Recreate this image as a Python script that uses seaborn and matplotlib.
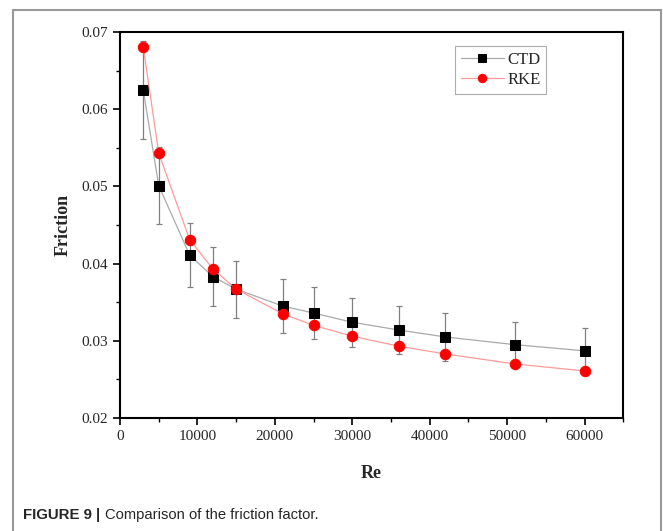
import numpy as np
import pandas as pd
import matplotlib.pyplot as plt
import seaborn as sns
from matplotlib.lines import Line2D

# Reynolds numbers and friction factors
re_vals = [3000, 5000, 9000, 12000, 15000, 21000, 25000, 30000, 36000, 42000, 51000, 60000]
ctd = [0.0625, 0.0501, 0.0411, 0.0383, 0.0367, 0.0345, 0.0336, 0.0324, 0.0314, 0.0305, 0.0295, 0.0287]
ctd_err = [0.0063, 0.0050, 0.0041, 0.0038, 0.0037, 0.0035, 0.0034, 0.0032, 0.0031, 0.0031, 0.0029, 0.0029]
rke = [0.0681, 0.0543, 0.0431, 0.0393, 0.0367, 0.0335, 0.0320, 0.0306, 0.0293, 0.0283, 0.0270, 0.0261]

sns.set_style("ticks")
plt.rcParams['font.family'] = ['Liberation Serif', 'DejaVu Serif']

df = pd.DataFrame({"Re": re_vals, "CTD": ctd, "RKE": rke})

fig = plt.figure(figsize=(6.63, 5.31), dpi=100)
ax = fig.add_axes([0.181, 0.2128, 0.759, 0.727])

ax.errorbar(df["Re"], df["CTD"], yerr=ctd_err, fmt='none', ecolor='#808080',
            elinewidth=0.9, capsize=2.5, capthick=0.9, zorder=1)
sns.lineplot(data=df, x="Re", y="CTD", ax=ax, color='#aaaaaa', linewidth=0.9,
             marker='s', markersize=6.5, markerfacecolor='black', markeredgecolor='black',
             label='CTD', zorder=2)
sns.lineplot(data=df, x="Re", y="RKE", ax=ax, color='#ff9a9a', linewidth=0.9,
             marker='o', markersize=7.5, markerfacecolor='red', markeredgecolor='red',
             label='RKE', zorder=3)

ax.set_xlim(0, 65000)
ax.set_ylim(0.02, 0.07)
ax.set_xticks(np.arange(0, 60001, 10000))
ax.set_xticks(np.arange(5000, 65001, 10000), minor=True)
ax.set_yticks(np.arange(0.02, 0.0701, 0.01))
ax.set_yticks(np.arange(0.025, 0.07, 0.01), minor=True)
ax.set_yticklabels(['0.02', '0.03', '0.04', '0.05', '0.06', '0.07'])
ax.tick_params(axis='both', which='major', direction='out', length=5, width=1.2,
               labelsize=11, color='black')
ax.tick_params(axis='both', which='minor', direction='out', length=3, width=1.0, color='black')
for s in ax.spines.values():
    s.set_visible(True)
    s.set_linewidth(1.5)
    s.set_color('black')

ax.set_xlabel("Re", fontsize=13, fontweight='bold', labelpad=16)
ax.set_ylabel("Friction", fontsize=13, fontweight='bold', labelpad=7)

leg = ax.legend(loc='upper right', bbox_to_anchor=(0.864, 0.985), fontsize=12,
                frameon=True, fancybox=False, edgecolor='#999999', handlelength=2.6,
                borderpad=0.35, labelspacing=0.25, handletextpad=0.2, markerscale=0.8)
leg.get_frame().set_linewidth(0.8)

# outer frame and caption
W, H = 663, 531
frame_kw = dict(color='#999999', linewidth=1.5, transform=fig.transFigure)
fig.add_artist(Line2D([13 / W, 13 / W], [0, 1 - 10 / H], **frame_kw))
fig.add_artist(Line2D([13 / W, 661 / W], [1 - 10 / H, 1 - 10 / H], **frame_kw))
fig.add_artist(Line2D([661 / W, 661 / W], [0, 1 - 10 / H], **frame_kw))

cap_font = ['Liberation Sans Narrow', 'Liberation Sans', 'DejaVu Sans']
fig.text(23 / W, 1 - 515 / H, "FIGURE 9 |", fontsize=10.8, fontweight='bold',
         family=cap_font, va='center')
fig.text(105 / W, 1 - 515 / H, "Comparison of the friction factor.", fontsize=10.6,
         family=cap_font, va='center')

fig.savefig("out.png", dpi=100)
